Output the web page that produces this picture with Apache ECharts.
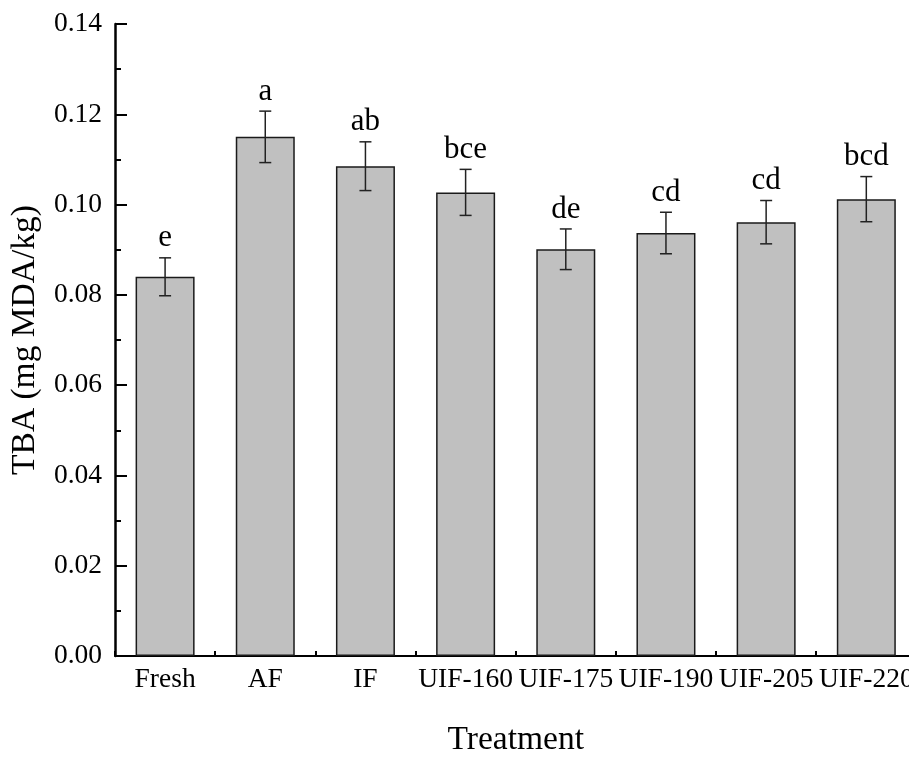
<!DOCTYPE html>
<html>
<head>
<meta charset="utf-8">
<script src="https://cdn.jsdelivr.net/npm/echarts@6/dist/echarts.min.js"></script>
<style>
  html, body { margin: 0; padding: 0; background: #fff; }
  #wrap { width: 909px; height: 762px; overflow: hidden; position: relative; }
  /* plot runs slightly past the right edge, so the last label is cut */
  #chart { position: absolute; left: 0; top: 0; width: 917px; height: 762px; }
</style>
</head>
<body>
<div id="wrap"><div id="chart"></div></div>
<script>
// Treatments along the x axis
const categories = ['Fresh', 'AF', 'IF', 'UIF-160', 'UIF-175', 'UIF-190', 'UIF-205', 'UIF-220'];
// Mean TBA values (mg MDA/kg)
const tbaMean = [0.0840, 0.1150, 0.1085, 0.1027, 0.0901, 0.0937, 0.0961, 0.1012];
// Standard deviations shown as error bars
const tbaSD = [0.0042, 0.0057, 0.0054, 0.0051, 0.0045, 0.0046, 0.0048, 0.0050];
// Significance group letters
const groupLetters = ['e', 'a', 'ab', 'bce', 'de', 'cd', 'cd', 'bcd'];
// Y axis ticks
const yMin = 0, yMax = 0.14, yStep = 0.02;

const FONT = '"Liberation Serif", "Times New Roman", serif';

const chart = echarts.init(document.getElementById('chart'), null, { renderer: 'canvas' });

const errData = categories.map((c, i) => [i, tbaMean[i], tbaSD[i]]);

const option = {
  backgroundColor: '#ffffff',
  animation: false,
  grid: { left: 112.4, right: 0.6, top: 24, bottom: 92, containLabel: false },
  xAxis: [
    {
      type: 'category',
      data: categories,
      position: 'bottom',
      name: 'Treatment',
      nameLocation: 'middle',
      nameGap: 67,
      nameTextStyle: { fontFamily: FONT, fontSize: 33.5, color: '#000' },
      axisLine: { show: true, lineStyle: { color: '#000', width: 2 } },
      axisTick: { show: true, inside: true, alignWithLabel: true, length: 11, lineStyle: { color: '#000', width: 2 } },
      axisLabel: { interval: 0, fontFamily: FONT, fontSize: 27.5, color: '#000', margin: 10 },
      splitLine: { show: false }
    },
    {
      // boundary ticks between categories
      type: 'category',
      data: categories,
      position: 'bottom',
      axisLine: { show: false },
      axisTick: { show: true, inside: true, alignWithLabel: false, length: 5, lineStyle: { color: '#000', width: 2 } },
      axisLabel: { show: false },
      splitLine: { show: false }
    }
  ],
  yAxis: {
    type: 'value',
    min: yMin,
    max: yMax,
    interval: yStep,
    name: 'TBA (mg MDA/kg)',
    nameLocation: 'middle',
    nameGap: 73,
    nameTextStyle: { fontFamily: FONT, fontSize: 33.5, color: '#000' },
    axisLine: { show: true, lineStyle: { color: '#000', width: 2.5 } },
    axisTick: { show: true, inside: true, length: 12, lineStyle: { color: '#000', width: 2 } },
    minorTick: { show: true, splitNumber: 2, length: 6, lineStyle: { color: '#000', width: 2 } },
    axisLabel: {
      fontFamily: FONT, fontSize: 27.5, color: '#000', margin: 13,
      formatter: v => v.toFixed(2)
    },
    splitLine: { show: false },
    minorSplitLine: { show: false }
  },
  series: [
    {
      type: 'bar',
      xAxisIndex: 0,
      data: tbaMean,
      barWidth: 59,
      itemStyle: { color: '#c0c0c0', borderColor: '#1a1a1a', borderWidth: 1.5 }
    },
    {
      type: 'custom',
      xAxisIndex: 0,
      data: errData,
      z: 5,
      renderItem: function (params, api) {
        const i = api.value(0);
        const m = api.value(1);
        const sd = api.value(2);
        const letter = groupLetters[i];
        const top = api.coord([i, m + sd]);
        const bot = api.coord([i, m - sd]);
        const half = 6;
        const ls = { stroke: '#222', lineWidth: 1.5 };
        return {
          type: 'group',
          children: [
            { type: 'line', shape: { x1: top[0], y1: top[1], x2: bot[0], y2: bot[1] }, style: ls },
            { type: 'line', shape: { x1: top[0] - half, y1: top[1], x2: top[0] + half, y2: top[1] }, style: ls },
            { type: 'line', shape: { x1: bot[0] - half, y1: bot[1], x2: bot[0] + half, y2: bot[1] }, style: ls },
            {
              type: 'text',
              style: {
                text: letter, x: top[0], y: top[1] - 4,
                align: 'center', verticalAlign: 'bottom',
                fontFamily: FONT, fontSize: 31, fill: '#000'
              }
            }
          ]
        };
      }
    }
  ]
};

chart.setOption(option);
</script>
</body>
</html>
